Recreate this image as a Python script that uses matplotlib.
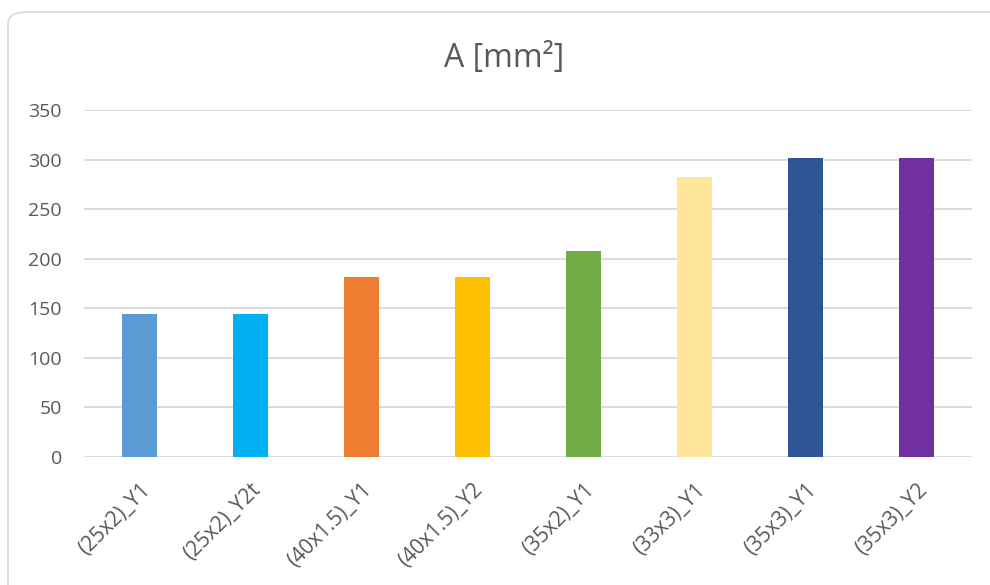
import matplotlib
matplotlib.use("Agg")
import matplotlib.pyplot as plt
from matplotlib.patches import FancyBboxPatch
from matplotlib.transforms import ScaledTranslation

categories = ["(25x2)_Y1", "(25x2)_Y2t", "(40x1.5)_Y1", "(40x1.5)_Y2",
              "(35x2)_Y1", "(33x3)_Y1", "(35x3)_Y1", "(35x3)_Y2"]
areas = [144.5, 144.5, 181.4, 181.4, 207.3, 282.7, 301.6, 301.6]
colors = ["#5B9BD5", "#00B0F0", "#ED7D31", "#FFC000",
          "#70AD47", "#FFE699", "#2F5597", "#7030A0"]
yticks = [0, 50, 100, 150, 200, 250, 300, 350]

plt.rcParams["font.family"] = ["Open Sans", "DejaVu Sans"]
text_color = "#595959"

fig = plt.figure(figsize=(9.9, 5.85), dpi=100)
fig.patch.set_facecolor("white")

# chart frame with rounded corners
frame = FancyBboxPatch((8 / 990, -0.05), 1.2, 1.05 - 12 / 585,
                       boxstyle="round,pad=0,rounding_size=0.02",
                       transform=fig.transFigure, facecolor="white",
                       edgecolor="#D9D9D9", linewidth=1.2, zorder=-10)
fig.patches.append(frame)

ax = fig.add_axes([84 / 990, 1 - 457 / 585, (972 - 84) / 990, (457 - 110) / 585])
ax.set_facecolor("none")
ax.set_zorder(5)

x = range(len(categories))
ax.bar(x, areas, width=0.315, color=colors, zorder=3)

ax.set_xlim(-0.5, len(categories) - 0.5)
ax.set_ylim(0, 350)
ax.set_yticks(yticks)
ax.set_yticklabels([str(v) for v in yticks], fontsize=14, color=text_color)
ax.set_xticks(list(x))
ax.set_xticklabels(categories, rotation=45, ha="right", rotation_mode="anchor",
                   fontsize=15, color=text_color)
shift = ScaledTranslation(-7 / 100, 0, fig.dpi_scale_trans)
for lbl in ax.get_xticklabels():
    lbl.set_transform(lbl.get_transform() + shift)
ax.tick_params(axis="both", length=0)
ax.tick_params(axis="x", pad=16)
ax.tick_params(axis="y", pad=16)
ax.grid(axis="y", color="#D9D9D9", linewidth=1.3, zorder=0)
for s in ax.spines.values():
    s.set_visible(False)

fig.text(504 / 990, 1 - 58 / 585, "A [mm²]", ha="center", va="center",
         fontsize=23, color=text_color, zorder=6)

fig.savefig("out.png", dpi=100, facecolor="white")
